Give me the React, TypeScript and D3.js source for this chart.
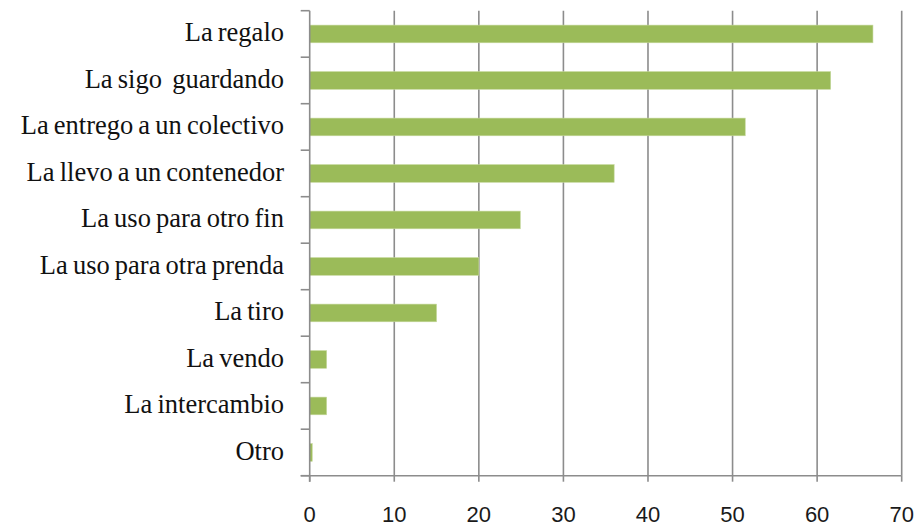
import * as d3 from 'd3';
import { useEffect, useRef } from 'react';

const width = 919;
const height = 527;

// categories top to bottom
const categories = [
  'La regalo',
  'La sigo  guardando',
  'La entrego a un colectivo',
  'La llevo a un contenedor',
  'La uso para otro fin',
  'La uso para otra prenda',
  'La tiro',
  'La vendo',
  'La intercambio',
  'Otro',
];
const values = [66.6, 61.6, 51.5, 36, 24.9, 20, 15, 2, 2, 0.3];
const xTicks = [0, 10, 20, 30, 40, 50, 60, 70];

const plot = { left: 309.7, right: 901.7, top: 10.7, bottom: 475.7 };
const barColor = '#9BBB59';
const axisColor = '#8c8c8c';

const App = () => {
  const svgRef = useRef<SVGSVGElement>(null);

  useEffect(() => {
    const svg = d3.select(svgRef.current);
    svg.selectAll('*').remove();

    const x = d3.scaleLinear().domain([0, 70]).range([plot.left, plot.right]);
    const y = d3
      .scaleBand<string>()
      .domain(categories)
      .range([plot.top, plot.bottom])
      .paddingInner(0.62)
      .paddingOuter(0.31);
    const step = y.step();

    // vertical gridlines
    svg
      .append('g')
      .selectAll('line')
      .data(xTicks.slice(1))
      .join('line')
      .attr('x1', (d) => x(d))
      .attr('x2', (d) => x(d))
      .attr('y1', plot.top)
      .attr('y2', plot.bottom)
      .attr('stroke', axisColor)
      .attr('stroke-width', 1.6);

    // bars
    svg
      .append('g')
      .selectAll('rect')
      .data(categories)
      .join('rect')
      .attr('x', x(0))
      .attr('y', (d) => y(d)!)
      .attr('width', (d, i) => x(values[i]) - x(0))
      .attr('height', y.bandwidth())
      .attr('fill', barColor)
      .attr('stroke', '#c4d79b')
      .attr('stroke-width', 0.6);

    const axes = svg.append('g').attr('stroke', axisColor).attr('stroke-width', 1.6);
    // left axis + category ticks
    axes
      .append('line')
      .attr('x1', plot.left)
      .attr('x2', plot.left)
      .attr('y1', plot.top)
      .attr('y2', plot.bottom + 6);
    axes
      .selectAll('line.ct')
      .data(d3.range(categories.length + 1))
      .join('line')
      .attr('class', 'ct')
      .attr('x1', plot.left - 9)
      .attr('x2', plot.left)
      .attr('y1', (i) => plot.top + i * step)
      .attr('y2', (i) => plot.top + i * step);
    // bottom axis + ticks
    axes
      .append('line')
      .attr('x1', plot.left - 9)
      .attr('x2', plot.right)
      .attr('y1', plot.bottom)
      .attr('y2', plot.bottom);
    axes
      .selectAll('line.xt')
      .data(xTicks)
      .join('line')
      .attr('class', 'xt')
      .attr('x1', (d) => x(d))
      .attr('x2', (d) => x(d))
      .attr('y1', plot.bottom)
      .attr('y2', plot.bottom + 6);

    // x tick labels
    svg
      .append('g')
      .selectAll('text')
      .data(xTicks)
      .join('text')
      .attr('x', (d) => x(d))
      .attr('y', 521.5)
      .attr('text-anchor', 'middle')
      .attr('font-family', '"Liberation Sans", Arial, sans-serif')
      .attr('font-size', 22)
      .attr('fill', '#1a1a1a')
      .text((d) => d);

    // category labels
    svg
      .append('g')
      .selectAll('text')
      .data(categories)
      .join('text')
      .attr('x', 284)
      .attr('y', (d) => y(d)! + y.bandwidth() / 2 + 7.5)
      .attr('text-anchor', 'end')
      .attr('font-family', '"Liberation Serif", "Times New Roman", serif')
      .attr('font-size', 26.5)
      .attr('word-spacing', -1.5)
      .attr('fill', '#111')
      .style('white-space', 'pre')
      .text((d) => d);
  }, []);

  return (
    <svg
      ref={svgRef}
      width={width}
      height={height}
      style={{ position: 'absolute', left: 0, top: 0, background: '#fff' }}
    />
  );
};

export default App;
